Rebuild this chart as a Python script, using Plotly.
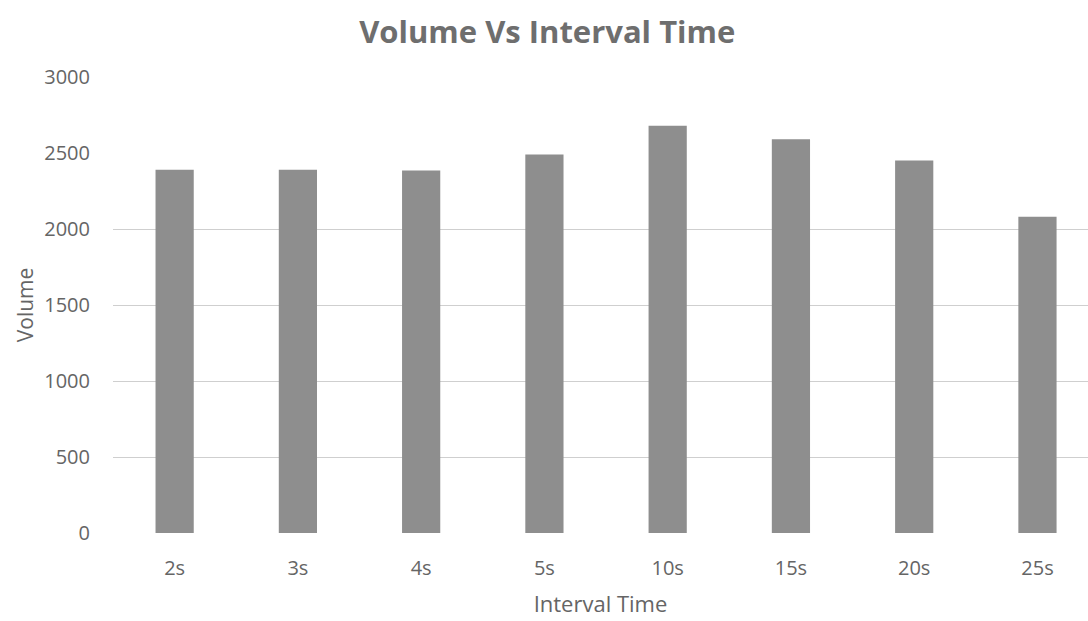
import plotly.graph_objects as go

# Volume measured at each sampling interval
intervals = ["2s", "3s", "4s", "5s", "10s", "15s", "20s", "25s"]
volume = [2390, 2390, 2385, 2490, 2680, 2590, 2450, 2080]

y_ticks = [0, 500, 1000, 1500, 2000, 2500, 3000]
grid_levels = [500, 1000, 1500, 2000]

font_family = "Open Sans, Noto Sans, sans-serif"
text_grey = "#656565"

fig = go.Figure(
    go.Bar(
        x=intervals,
        y=volume,
        marker=dict(color="#8e8e8e", line=dict(width=0)),
        width=0.31,
    )
)

# A second, label-free y axis carries the horizontal guide lines
fig.add_trace(go.Scatter(x=[], y=[], yaxis="y2", showlegend=False))

fig.update_layout(
    width=1088,
    height=621,
    margin=dict(l=113, r=0, t=77, b=88),
    paper_bgcolor="white",
    plot_bgcolor="white",
    showlegend=False,
    title=dict(
        text="<b>Volume Vs Interval Time</b>",
        x=0.503,
        xref="container",
        xanchor="center",
        y=0.948,
        yanchor="middle",
        font=dict(family=font_family, size=31, color="#6e6e6e"),
    ),
    font=dict(family=font_family, color=text_grey),
    yaxis2=dict(
        overlaying="y",
        range=[0, 3000],
        tickvals=grid_levels,
        showticklabels=False,
        showgrid=True,
        gridcolor="#cfcfcf",
        gridwidth=1,
        zeroline=False,
        showline=False,
        ticks="",
        layer="below traces",
    ),
)

fig.update_xaxes(
    range=[-0.5, 7.41],
    showgrid=False,
    showline=False,
    ticks="",
    tickfont=dict(size=20, color=text_grey),
    ticklabelstandoff=21,
    title=dict(text="Interval Time", font=dict(size=22, color=text_grey), standoff=16),
)

fig.update_yaxes(
    range=[0, 3000],
    tickvals=y_ticks,
    showgrid=False,
    zeroline=False,
    showline=False,
    ticks="",
    tickfont=dict(size=20, color=text_grey),
    ticklabelstandoff=22,
    title=dict(text="Volume", font=dict(size=21, color=text_grey), standoff=4),
    selector=dict(overlaying=None),
)

fig.write_html("out.html")
